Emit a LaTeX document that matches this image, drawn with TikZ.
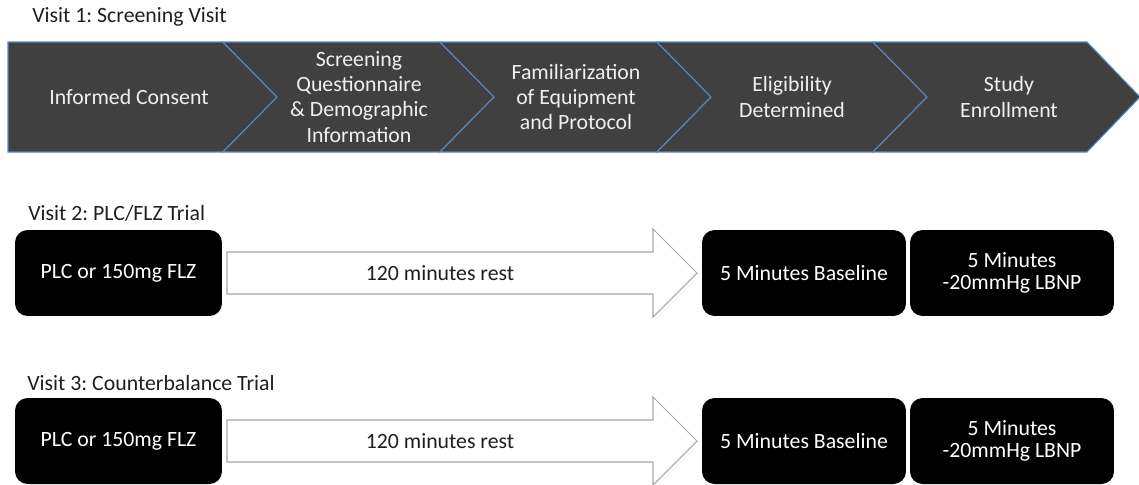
\documentclass[tikz,border=0pt]{standalone}
\usepackage{fontspec}
\setmainfont{Carlito}
\frenchspacing
\definecolor{chevfill}{HTML}{404040}
\definecolor{chevline}{HTML}{5B86C8}
\definecolor{arrline}{HTML}{A6A6A6}

\begin{document}
\begin{tikzpicture}[x=0.02cm,y=-0.02cm,
    lbl/.style={font=\fontsize{12.4}{14.3}\selectfont,inner sep=0pt,text=black!88},
    chevtext/.style={lbl,align=center,text=white!94!black},
    chev/.style={fill=chevfill,draw=chevline,line width=0.6pt,line join=miter},
    restarrow/.style={fill=white,draw=arrline,line width=0.6pt},
    blackbox/.style={lbl,align=center,text=white,fill=black,rounded corners=0.25cm,
        minimum width=4.08cm,minimum height=1.72cm,
        font=\fontsize{12.4}{12.8}\selectfont}]
    \useasboundingbox (0,0) rectangle (1139,484);
    % visit 1: chevrons
    \draw[chev] (8,42)--(223,42)--(277,97)--(223,152)--(8,152)--cycle;
    \draw[chev] (223,42)--(440,42)--(494,97)--(440,152)--(223,152)--(277,97)--cycle;
    \draw[chev] (440,42)--(657,42)--(711,97)--(657,152)--(440,152)--(494,97)--cycle;
    \draw[chev] (657,42)--(873,42)--(927,97)--(873,152)--(657,152)--(711,97)--cycle;
    \draw[chev] (873,42)--(1087,42)--(1140,97)--(1087,152)--(873,152)--(927,97)--cycle;
    \node[lbl,anchor=west] (visit1) at (32,17) {Visit 1: Screening Visit};
    \node[chevtext] (consent) at (129,97) {Informed Consent};
    \node[chevtext] (screen) at (359,97) {Screening\\Questionnaire\\\& Demographic\\Information};
    \node[chevtext] (famil) at (576,97) {Familiarization\\of Equipment\\and Protocol};
    \node[chevtext] (elig) at (792,97) {Eligibility\\Determined};
    \node[chevtext] (enrol) at (1009,97) {Study\\Enrollment};
    % visit 2
    \node[lbl,anchor=west] (visit2) at (28,213) {Visit 2: PLC/FLZ Trial};
    \node[blackbox,minimum width=4.14cm] (plc2) at (118.5,273) {PLC or 150mg FLZ};
    \draw[restarrow] (227,252)--(653,252)--(653,229)--(697,273)--(653,317)--(653,294)--(227,294)--cycle;
    \node[lbl] (rest2) at (440,273) {120 minutes rest};
    \node[blackbox] (base2) at (804,273) {5 Minutes Baseline};
    \node[blackbox] (lbnp2) at (1012,273) {5 Minutes\\-20mmHg LBNP};
    % visit 3
    \node[lbl,anchor=west] (visit3) at (27,383) {Visit 3: Counterbalance Trial};
    \node[blackbox,minimum width=4.14cm] (plc3) at (118.5,441) {PLC or 150mg FLZ};
    \draw[restarrow] (227,420)--(653,420)--(653,397)--(697,441)--(653,485)--(653,462)--(227,462)--cycle;
    \node[lbl] (rest3) at (440,441) {120 minutes rest};
    \node[blackbox] (base3) at (804,441) {5 Minutes Baseline};
    \node[blackbox] (lbnp3) at (1012,441) {5 Minutes\\-20mmHg LBNP};
\end{tikzpicture}
\end{document}
